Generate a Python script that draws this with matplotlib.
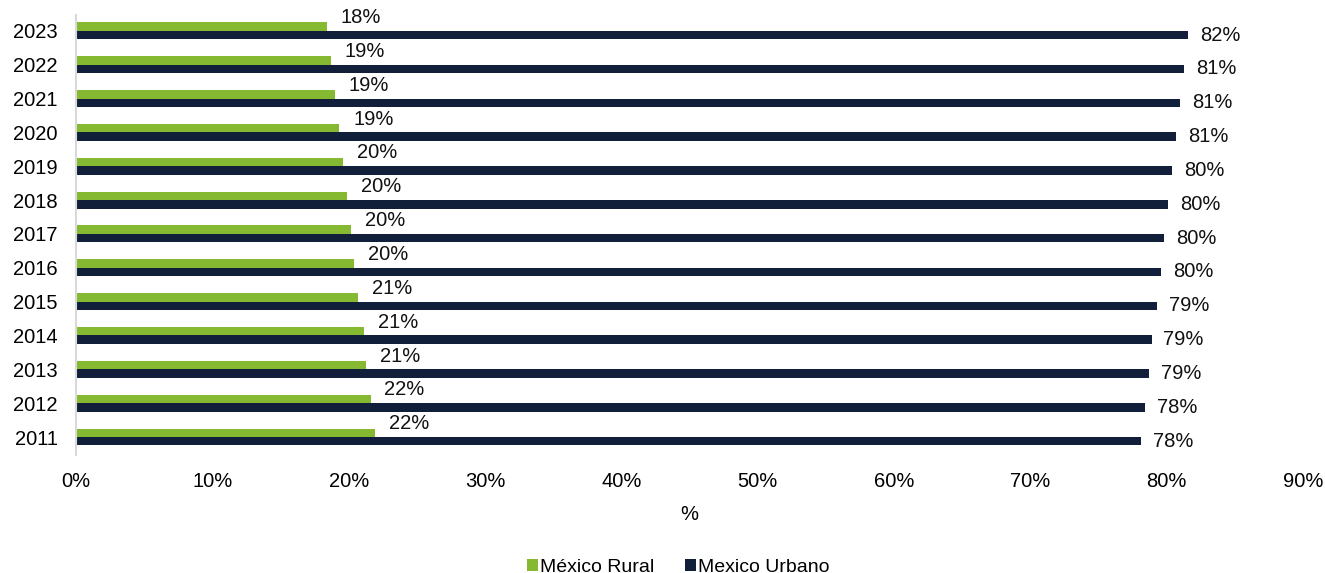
import matplotlib
matplotlib.use("Agg")
import matplotlib.pyplot as plt
import numpy as np

plt.rcParams['font.family'] = ['Liberation Sans', 'DejaVu Sans']

years = [2011, 2012, 2013, 2014, 2015, 2016, 2017, 2018, 2019, 2020, 2021, 2022, 2023]
urbano = [78.1, 78.4, 78.7, 78.9, 79.3, 79.6, 79.8, 80.1, 80.4, 80.7, 81.0, 81.3, 81.6]
rural = [100 - u for u in urbano]
xticks = [0, 10, 20, 30, 40, 50, 60, 70, 80, 90]

green = '#86b932'
navy = '#111f3b'
fs = 14.5

fig = plt.figure(figsize=(13.25, 5.73), dpi=100)
ax = fig.add_axes([0.0574, 0.206, 0.926, 0.768])

y = np.arange(len(years))
h = 0.25
ax.barh(y + h / 2, rural, height=h, color=green, label='México Rural')
ax.barh(y - h / 2, urbano, height=h, color=navy, label='Mexico Urbano')

for yi, r, u in zip(y, rural, urbano):
    ax.annotate(f'{r:.0f}%', (r, yi + h / 2), xytext=(10, 6.5), textcoords='offset points',
                ha='left', va='center', fontsize=fs, color='#111111')
    ax.annotate(f'{u:.0f}%', (u, yi - h / 2), xytext=(8.5, 0), textcoords='offset points',
                ha='left', va='center', fontsize=fs, color='#111111')

ax.set_xlim(0, 90)
ax.set_ylim(-0.53, 12.47)
ax.set_xticks(xticks)
ax.set_xticklabels([f'{t}%' for t in xticks], fontsize=fs)
ax.set_yticks(y)
ax.set_yticklabels([str(yr) for yr in years], fontsize=fs)
ax.tick_params(length=0, pad=13)
ax.tick_params(axis='x', pad=12)
ax.set_xlabel('%', fontsize=fs, labelpad=10)

for s in ['top', 'right', 'bottom']:
    ax.spines[s].set_visible(False)
ax.spines['left'].set_color('#d9d9d9')
ax.spines['left'].set_linewidth(1.5)

fig.legend(loc='lower center', bbox_to_anchor=(0.512, -0.035), ncol=2, frameon=False,
           fontsize=14, handlelength=0.55, handleheight=0.55, handletextpad=0.12, columnspacing=1.6)

fig.savefig('out.png', dpi=100)
